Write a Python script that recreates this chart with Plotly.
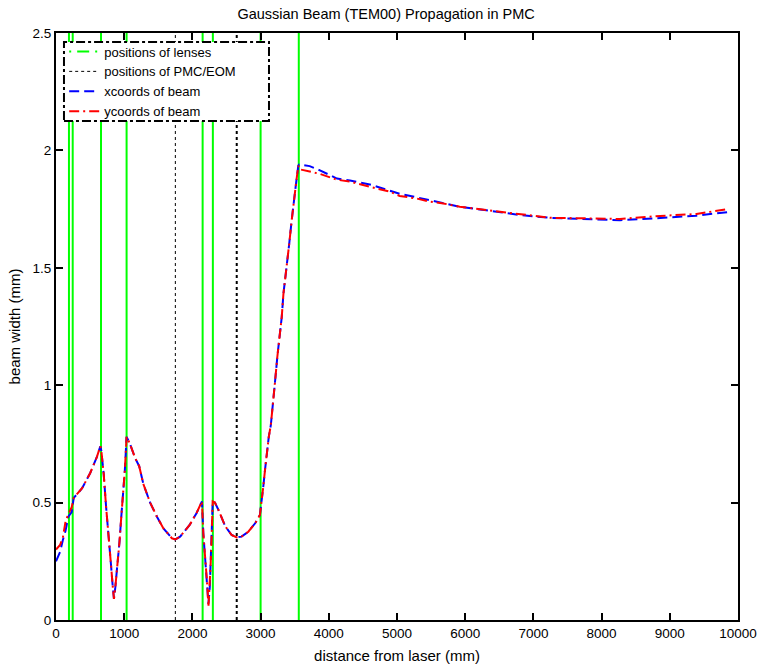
import plotly.graph_objects as go

# Positions along the beam path (mm)
lens_positions = [190, 245, 660, 1035, 2150, 2300, 3000, 3560]
pmc_eom_positions = [1750, 2650]

# Beam width samples (mm) along the propagation distance
dist = [0, 60, 100, 140, 180, 200, 230, 245, 260, 380, 500, 600, 650, 665, 700,
        735, 755, 780, 805, 830, 850, 870, 900, 930, 960, 985, 1010, 1035, 1085,
        1160, 1220, 1280, 1380, 1480, 1575, 1700, 1750, 1820, 1960, 2060, 2140,
        2160, 2185, 2200, 2220, 2235, 2255, 2268, 2280, 2298, 2330, 2380, 2480,
        2575, 2650, 2720, 2820, 2920, 2990, 3015, 3040, 3065, 3090, 3120, 3150,
        3180, 3210, 3245, 3285, 3310, 3335, 3385, 3415, 3455, 3490, 3520, 3553,
        3565, 3720, 3870, 4120, 4310, 4600, 4900, 5040, 5290, 5480, 5680, 5920,
        6310, 6800, 7240, 7680, 8270, 8860, 9390, 9840]

width_x = [0.25, 0.29, 0.34, 0.38, 0.44, 0.45, 0.46, 0.49, 0.52, 0.56, 0.625,
           0.695, 0.74, 0.72, 0.62, 0.48, 0.40, 0.34, 0.24, 0.15, 0.09, 0.14,
           0.23, 0.33, 0.45, 0.54, 0.64, 0.78, 0.75, 0.69, 0.655, 0.58, 0.50,
           0.44, 0.39, 0.348, 0.343, 0.355, 0.405, 0.455, 0.505, 0.37, 0.28,
           0.20, 0.14, 0.07, 0.14, 0.24, 0.34, 0.505, 0.50, 0.47, 0.40, 0.362,
           0.352, 0.355, 0.376, 0.412, 0.447, 0.50, 0.57, 0.64, 0.71, 0.78, 0.83,
           0.91, 1.01, 1.12, 1.21, 1.29, 1.39, 1.505, 1.59, 1.70, 1.775, 1.86,
           1.935, 1.94, 1.933, 1.915, 1.88, 1.872, 1.855, 1.83, 1.815, 1.80,
           1.788, 1.778, 1.76, 1.745, 1.725, 1.713, 1.708, 1.703, 1.712, 1.722,
           1.737]

width_y = [0.30, 0.32, 0.35, 0.42, 0.45, 0.46, 0.48, 0.50, 0.52, 0.56, 0.625,
           0.695, 0.74, 0.72, 0.62, 0.48, 0.40, 0.34, 0.24, 0.15, 0.09, 0.14,
           0.23, 0.33, 0.45, 0.54, 0.64, 0.78, 0.75, 0.69, 0.655, 0.58, 0.50,
           0.44, 0.39, 0.348, 0.343, 0.355, 0.405, 0.455, 0.505, 0.37, 0.28,
           0.20, 0.14, 0.055, 0.14, 0.24, 0.34, 0.505, 0.50, 0.47, 0.40, 0.362,
           0.352, 0.355, 0.376, 0.412, 0.447, 0.50, 0.57, 0.64, 0.71, 0.78, 0.83,
           0.91, 1.01, 1.12, 1.21, 1.29, 1.39, 1.505, 1.59, 1.70, 1.775, 1.86,
           1.935, 1.92, 1.91, 1.90, 1.875, 1.867, 1.845, 1.824, 1.806, 1.795,
           1.782, 1.774, 1.76, 1.746, 1.729, 1.713, 1.711, 1.708, 1.721, 1.729,
           1.75]

Y_MAX = 2.5
FONT = "Liberation Sans, Arial, sans-serif"


def vlines(xs, ymax):
    """Build x/y lists for vertical segments from 0 to ymax, separated by gaps."""
    vx, vy = [], []
    for x in xs:
        vx += [x, x, None]
        vy += [0, ymax, None]
    return vx, vy


fig = go.Figure()

# Lens positions: solid green verticals in the plot, dash-dot sample in the legend
lx, ly = vlines(lens_positions, Y_MAX)
fig.add_trace(go.Scatter(x=lx, y=ly, mode="lines", showlegend=False,
                         line=dict(color="#00ff00", width=2), hoverinfo="skip"))
fig.add_trace(go.Scatter(x=[None], y=[None], mode="lines", name="positions of lenses",
                         line=dict(color="#00ff00", width=2, dash="2px,6px,12px,6px")))

# PMC / EOM positions: black dotted verticals
px0, py0 = vlines(pmc_eom_positions[:1], Y_MAX)
px1, py1 = vlines(pmc_eom_positions[1:], Y_MAX)
fig.add_trace(go.Scatter(x=px0, y=py0, mode="lines", name="positions of PMC/EOM",
                         line=dict(color="black", width=1, dash="3px,3px")))
fig.add_trace(go.Scatter(x=px1, y=py1, mode="lines", showlegend=False,
                         line=dict(color="black", width=2, dash="3px,3px")))

# Beam widths
fig.add_trace(go.Scatter(x=dist, y=width_x, mode="lines", name="xcoords of beam",
                         line=dict(color="#0000ff", width=2, dash="10px,5px")))
fig.add_trace(go.Scatter(x=dist, y=width_y, mode="lines", name="ycoords of beam",
                         line=dict(color="#ff0000", width=2, dash="10px,4px,2px,4px")))

axis_common = dict(
    showline=True, linecolor="black", linewidth=2, mirror="ticks",
    ticks="inside", ticklen=7, tickwidth=2, tickcolor="black",
    showgrid=False, zeroline=False, automargin=False,
    tickfont=dict(family=FONT, size=13.5, color="black"),
)

fig.update_xaxes(range=[0, 10000], dtick=1000, tick0=0, tickformat="d",
                 title=dict(text="distance from laser (mm)",
                            font=dict(family=FONT, size=15, color="black"),
                            standoff=14),
                 **axis_common)
fig.update_yaxes(range=[0, Y_MAX], dtick=0.5, tick0=0,
                 title=dict(text="beam width (mm)",
                            font=dict(family=FONT, size=15, color="black"),
                            standoff=8),
                 **axis_common)

# Dash-dot framed legend box
fig.add_shape(type="rect", xref="paper", yref="paper",
              x0=0.0117, x1=0.3123, y0=0.850, y1=0.9847,
              line=dict(color="black", width=2, dash="dashdot"),
              fillcolor="white", layer="above")

fig.update_layout(
    width=758, height=664,
    margin=dict(l=56, r=20, t=33, b=44, autoexpand=False),
    paper_bgcolor="white", plot_bgcolor="white",
    font=dict(family=FONT, size=13.5, color="black"),
    title=dict(text="Gaussian Beam (TEM00) Propagation in PMC",
               x=0.484, xref="paper", xanchor="center",
               y=1 - 14 / 664, yref="container", yanchor="middle",
               font=dict(family=FONT, size=14.5, color="black")),
    legend=dict(x=0.012, y=0.994, xanchor="left", yanchor="top",
                bgcolor="rgba(0,0,0,0)", borderwidth=0,
                font=dict(family=FONT, size=13, color="black"),
                tracegroupgap=0, itemwidth=30),
    showlegend=True,
)

fig.write_html("out.html")
